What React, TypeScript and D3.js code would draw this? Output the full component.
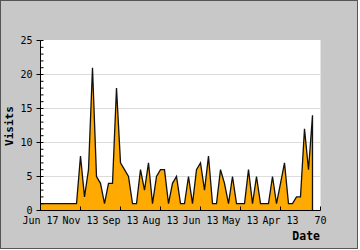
import React from "react";
import * as d3 from "d3";

const visits: number[] = [
  1, 1, 1, 1, 1, 1, 1, 1, 1, 1,
  8, 2, 6, 21, 5, 4, 1, 4, 4, 18,
  7, 6, 5, 1, 1, 6, 3, 7, 1, 5,
  6, 6, 1, 4, 5, 1, 1, 5, 1, 6,
  7, 3, 8, 1, 1, 6, 4, 1, 5, 1,
  1, 1, 6, 1, 5, 1, 1, 1, 5, 1,
  4, 7, 1, 1, 2, 2, 12, 6, 14,
];
const xTickIndex: number[] = [0, 10, 20, 30, 40, 50, 60, 70];
const xTickLabels: string[] = ["Jun 17", "Nov 13", "Sep 13", "Aug 13", "Jun 13", "May 13", "Apr 13", "70"];
const yMajorTicks: number[] = [0, 5, 10, 15, 20, 25];
const yMinorTicks: number[] = d3.range(0, 26);

const W = 360;
const H = 250;
const font = "'DejaVu Sans Mono', monospace";

export default function App() {
  const x = d3.scaleLinear().domain([0, 70]).range([40.5, 320.5]);
  const y = d3.scaleLinear().domain([0, 25]).range([210.5, 40.5]);
  const area = d3
    .area<number>()
    .x((_, i) => x(i))
    .y0(y(0))
    .y1((d) => y(d));
  const areaPath = area(visits) || "";
  const lastX = x(visits.length - 1);

  return (
    <svg
      width={W}
      height={H}
      style={{ position: "fixed", left: 0, top: 0, display: "block" }}
      fontFamily={font}
    >
      <rect x={0} y={0} width={W} height={H} fill="#ffffff" />
      <rect x={0.5} y={0.5} width={357} height={248} fill="#c8c8c8" stroke="#555555" strokeWidth={1} />
      <rect x={x(0)} y={40} width={x(70) - x(0)} height={y(0) - 40} fill="#ffffff" />
      {yMajorTicks.filter((v) => v > 0 && v < 25).map((v) => (
        <line key={"g" + v} x1={x(0)} x2={x(70)} y1={y(v)} y2={y(v)} stroke="#dcdcdc" strokeWidth={1} />
      ))}
      <path d={areaPath} fill="#ffaa00" stroke="none" />
      <path
        d={d3.line<number>().x((_, i) => x(i)).y((d) => y(d))(visits) + `L${lastX},${y(0)}`}
        fill="none"
        stroke="#111111"
        strokeWidth={1.3}
        strokeLinejoin="miter"
      />
      {/* axes */}
      <line x1={x(0)} x2={x(0)} y1={y(25)} y2={y(0)} stroke="#000" strokeWidth={1} />
      <line x1={x(0)} x2={x(70)} y1={y(0)} y2={y(0)} stroke="#000" strokeWidth={1} />
      {yMinorTicks.map((v) => (
        <line key={"m" + v} x1={x(0)} x2={x(0) + 3} y1={y(v)} y2={y(v)} stroke="#000" strokeWidth={1} />
      ))}
      {yMajorTicks.map((v) => (
        <g key={"y" + v}>
          <line x1={x(0) - 4} x2={x(0)} y1={y(v)} y2={y(v)} stroke="#000" strokeWidth={1} />
          <text x={32.5} y={y(v)} dy="0.35em" textAnchor="end" fontSize={10} fill="#000">
            {v}
          </text>
        </g>
      ))}
      {xTickIndex.map((t, i) => (
        <g key={"x" + t}>
          <line x1={x(t)} x2={x(t)} y1={y(0) - 4} y2={y(0)} stroke="#000" strokeWidth={1} />
          <text x={x(t)} y={224} textAnchor="middle" fontSize={10} fill="#000">
            {xTickLabels[i]}
          </text>
        </g>
      ))}
      <text x={320} y={240} textAnchor="end" fontSize={11.5} fontWeight="bold" fill="#000">
        Date
      </text>
      <text
        transform={`translate(13,126) rotate(-90)`}
        textAnchor="middle"
        fontSize={11}
        fontWeight="bold"
        fill="#000"
      >
        Visits
      </text>
    </svg>
  );
}
